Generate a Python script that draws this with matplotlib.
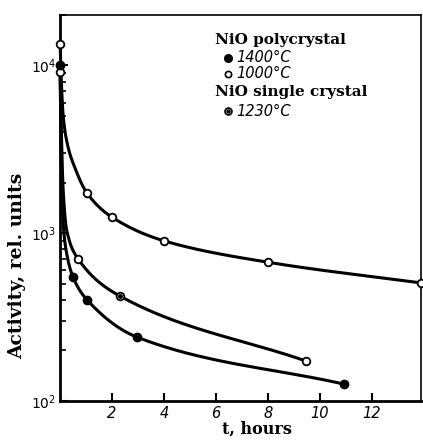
import numpy as np
import matplotlib.pyplot as plt
from matplotlib.ticker import LogLocator, FixedLocator, NullFormatter

# curve traces (t in hours, activity in rel. units)
t_1000 = [0, 0.05, 0.12, 0.3, 0.55, 1.04, 2.0, 4.0, 8.0, 13.9]
a_1000 = [13500, 8000, 5000, 3300, 2500, 1730, 1245, 900, 671, 505]
t_1230 = [0, 0.05, 0.12, 0.25, 0.7, 2.3, 9.46]
a_1230 = [9100, 4000, 1800, 1050, 700, 422, 173]
t_1400 = [0, 0.04, 0.1, 0.2, 0.5, 1.04, 2.96, 10.92]
a_1400 = [10000, 3000, 1300, 850, 547, 400, 240, 126]

# measured points (markers)
pt_1000 = [0, 1.04, 2.0, 4.0, 8.0, 13.9]
pa_1000 = [13500, 1730, 1245, 900, 671, 505]
pt_1230 = [0, 0.7, 2.3, 9.46]
pa_1230 = [9100, 700, 422, 173]
pt_1400 = [0, 0.5, 1.04, 2.96, 10.92]
pa_1400 = [10000, 547, 400, 240, 126]


def pchip(x, y, xn):
    x = np.asarray(x, float)
    y = np.asarray(y, float)
    h = np.diff(x)
    d = np.diff(y) / h
    m = np.zeros_like(y)
    for k in range(1, len(x) - 1):
        if d[k - 1] * d[k] > 0:
            w1 = 2 * h[k] + h[k - 1]
            w2 = h[k] + 2 * h[k - 1]
            m[k] = (w1 + w2) / (w1 / d[k - 1] + w2 / d[k])
    m[0] = d[0]
    m[-1] = d[-1]
    idx = np.clip(np.searchsorted(x, xn) - 1, 0, len(h) - 1)
    s = (xn - x[idx]) / h[idx]
    h00 = 2 * s**3 - 3 * s**2 + 1
    h10 = s**3 - 2 * s**2 + s
    h01 = -2 * s**3 + 3 * s**2
    h11 = s**3 - s**2
    return (h00 * y[idx] + h10 * h[idx] * m[idx] + h01 * y[idx + 1]
            + h11 * h[idx] * m[idx + 1])


def smooth(t, a):
    tn = np.linspace(t[0], t[-1], 800)
    return tn, 10 ** pchip(t, np.log10(a), tn)


fig = plt.figure(figsize=(4.23, 4.40), dpi=100)
ax = fig.add_axes([0.142, 0.089, 0.853, 0.877])

lw = 2.2
for t, a in [(t_1000, a_1000), (t_1230, a_1230), (t_1400, a_1400)]:
    tn, an = smooth(t, a)
    ax.plot(tn, an, color='black', lw=lw, clip_on=False, zorder=2)

ax.plot(pt_1000, pa_1000, 'o', ms=5.5, mfc='white', mec='black', mew=1.3,
        clip_on=False, zorder=3)
ax.plot(pt_1230, pa_1230, 'o', ms=5.5, mfc='white', mec='black', mew=1.3,
        clip_on=False, zorder=3)
ax.plot(pt_1230[2:3], pa_1230[2:3], 'o', ms=2.5, color='black', zorder=4)
ax.plot(pt_1400, pa_1400, 'o', ms=6, color='black', clip_on=False, zorder=3)

ax.set_yscale('log')
ax.set_xlim(0, 13.9)
ax.set_ylim(100, 20000)

ax.xaxis.set_major_locator(FixedLocator([2, 4, 6, 8, 10, 12]))
ax.set_xticklabels(['2', '4', '6', '8', '10', '12'], fontstyle='italic',
                   fontsize=10.5)
ax.yaxis.set_major_locator(FixedLocator([100, 1000, 10000]))
ax.set_yticklabels(['$\\mathit{10^2}$', '$\\mathit{10^3}$', '$\\mathit{10^4}$'],
                   fontsize=10)
ax.yaxis.set_minor_locator(LogLocator(base=10, subs=np.arange(2, 10)))
ax.yaxis.set_minor_formatter(NullFormatter())
ax.tick_params(axis='both', which='major', direction='in', length=6,
               width=1.5, pad=3)
ax.tick_params(axis='y', which='minor', direction='in', length=4, width=1.2)
ax.tick_params(axis='x', which='major', pad=4)

for side in ['left', 'bottom']:
    ax.spines[side].set_linewidth(2.0)
for side in ['top', 'right']:
    ax.spines[side].set_linewidth(1.2)

ax.set_xlabel('t, hours', family='DejaVu Serif', fontweight='bold',
              fontsize=11.5)
ax.xaxis.set_label_coords(0.546, -0.052)
ax.set_ylabel('Activity, rel. units', family='DejaVu Serif',
              fontweight='bold', fontsize=13.5)
ax.yaxis.set_label_coords(-0.093, 0.35)

ax.text(0.43, 0.935, 'NiO polycrystal', transform=ax.transAxes,
        family='DejaVu Serif', fontweight='bold', fontsize=11, va='center')
ax.text(0.43, 0.80, 'NiO single crystal', transform=ax.transAxes,
        family='DejaVu Serif', fontweight='bold', fontsize=11, va='center')
ax.plot([0.465], [0.889], 'o', ms=5.5, color='black', transform=ax.transAxes)
ax.plot([0.465], [0.847], 'o', ms=4.5, mfc='white', mec='black', mew=1.2,
        transform=ax.transAxes)
ax.plot([0.465], [0.751], 'o', ms=5, mfc='white', mec='black', mew=1.2,
        transform=ax.transAxes)
ax.plot([0.465], [0.751], 'o', ms=2.2, color='black', transform=ax.transAxes)
for y, s in [(0.889, '1400°C'), (0.847, '1000°C'), (0.751, '1230°C')]:
    ax.text(0.487, y, s, transform=ax.transAxes, fontstyle='italic',
            fontsize=10.5, va='center')

fig.savefig('out.png', dpi=100)
